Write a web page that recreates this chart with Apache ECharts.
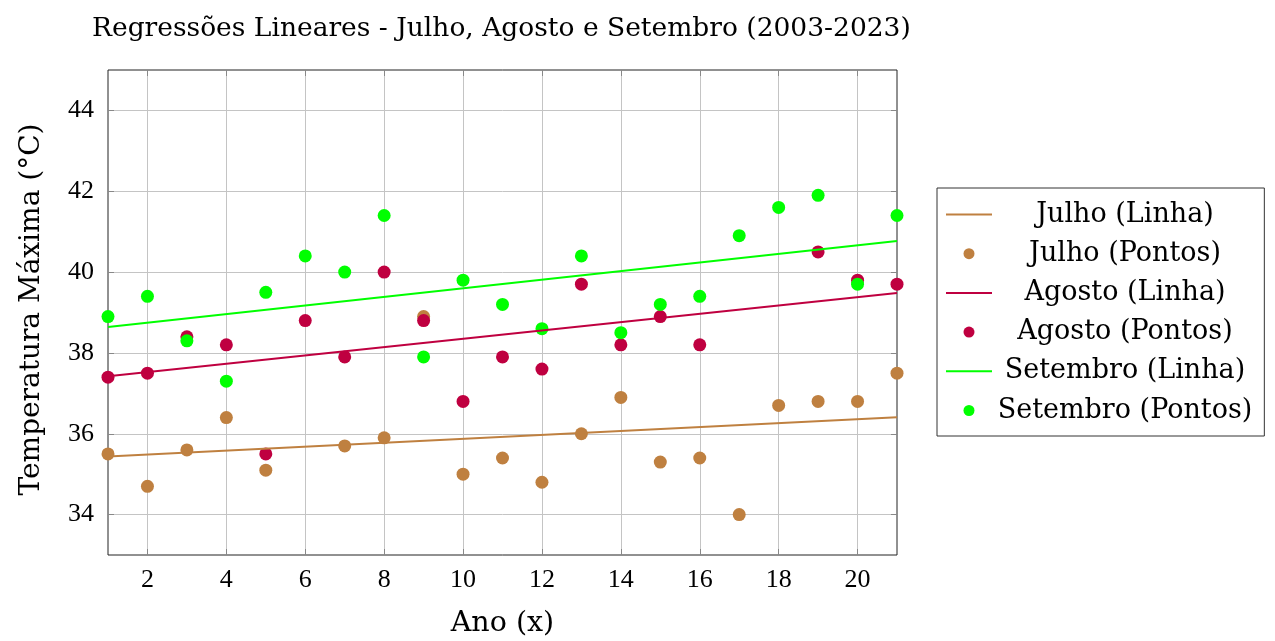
<!DOCTYPE html>
<html>
<head>
<meta charset="utf-8">
<script src="https://cdn.jsdelivr.net/npm/echarts@6/dist/echarts.min.js"></script>
<style>html,body{margin:0;padding:0;background:#fff}#c{width:1275px;height:641px}</style>
</head>
<body>
<div id="c"></div>
<script>
const years = [1,2,3,4,5,6,7,8,9,10,11,12,13,14,15,16,17,18,19,20,21];
const julho = [35.5,34.7,35.6,36.4,35.1,null,35.7,35.9,38.9,35.0,35.4,34.8,36.0,36.9,35.3,35.4,34.0,36.7,36.8,36.8,37.5];
const agosto = [37.4,37.5,38.4,38.2,35.5,38.8,37.9,40.0,38.8,36.8,37.9,37.6,39.7,38.2,38.9,38.2,null,null,40.5,39.8,39.7];
const setembro = [38.9,39.4,38.3,37.3,39.5,40.4,40.0,41.4,37.9,39.8,39.2,38.6,40.4,38.5,39.2,39.4,40.9,41.6,41.9,39.7,41.4];
const lineX = [1, 21];
const julhoLine = [35.44, 36.41];
const agostoLine = [37.42, 39.48];
const setembroLine = [38.64, 40.77];
const xTicks = [2,4,6,8,10,12,14,16,18,20];
const yTicks = [34,36,38,40,42,44];

const C_JUL = '#bf8040', C_AGO = '#bf0040', C_SET = '#00ff00';
const FONT = 'DejaVu Serif';
const NUMFONT = 'Liberation Serif';

function pts(ys){ return years.map((x,i)=>[x, ys[i]]).filter(p=>p[1]!==null); }
function ln(ys){ return lineX.map((x,i)=>[x, ys[i]]); }

const chart = echarts.init(document.getElementById('c'), null, {renderer:'canvas'});
const gridLineStyle = {color:'#c4c4c4', width:1};
const tickStyle = {color:'#888', width:1};
const lineIcon = n => ({name:n, itemStyle:{opacity:0}});
chart.setOption({
  animation:false,
  backgroundColor:'#fff',
  title:{
    text:'Regressões Lineares - Julho, Agosto e Setembro (2003-2023)',
    left:87, top:11,
    textStyle:{fontFamily:FONT, fontSize:26.5, fontWeight:'normal', color:'#000'}
  },
  grid:{left:108, right:378, top:70, bottom:86, outerBoundsMode:'none', containLabel:false, show:true, borderColor:'#222', borderWidth:1, backgroundColor:'transparent'},
  legend:{
    orient:'vertical', left:937, top:188,
    padding:[13,12,12,8],
    itemWidth:46, itemHeight:11, itemGap:12.2,
    borderColor:'#333', borderWidth:1,
    formatter: n => '{a|' + n + '}',
    textStyle:{fontFamily:FONT, fontSize:27, color:'#000', rich:{a:{width:256, align:'center', fontFamily:FONT, fontSize:27}}},
    data:[lineIcon('Julho (Linha)'),'Julho (Pontos)',lineIcon('Agosto (Linha)'),'Agosto (Pontos)',lineIcon('Setembro (Linha)'),'Setembro (Pontos)']
  },
  xAxis:[{
    type:'value', min:1, max:21,
    name:'Ano (x)', nameLocation:'middle', nameGap:54,
    nameTextStyle:{fontFamily:FONT, fontSize:28.5, color:'#000'},
    axisLine:{show:false},
    axisTick:{show:true, inside:true, length:6, lineStyle:tickStyle, customValues:xTicks},
    axisLabel:{fontFamily:NUMFONT, fontSize:26, color:'#000', margin:12, customValues:xTicks},
    splitLine:{show:true, lineStyle:gridLineStyle}
  },{
    type:'value', min:1, max:21, position:'top',
    axisLine:{show:false},
    axisTick:{show:true, inside:true, length:6, lineStyle:tickStyle, customValues:xTicks},
    axisLabel:{show:false, customValues:xTicks},
    splitLine:{show:false}
  }],
  yAxis:[{
    type:'value', min:33, max:45,
    name:'Temperatura Máxima (°C)', nameLocation:'middle', nameGap:62, nameRotate:90,
    nameTextStyle:{fontFamily:FONT, fontSize:28, color:'#000', padding:[0,0,0,6]},
    axisLine:{show:false},
    axisTick:{show:true, inside:true, length:6, lineStyle:tickStyle, customValues:yTicks},
    axisLabel:{fontFamily:NUMFONT, fontSize:26, color:'#000', margin:14, customValues:yTicks},
    splitLine:{show:true, lineStyle:gridLineStyle}
  },{
    type:'value', min:33, max:45, position:'right',
    axisLine:{show:false},
    axisTick:{show:true, inside:true, length:6, lineStyle:tickStyle, customValues:yTicks},
    axisLabel:{show:false, customValues:yTicks},
    splitLine:{show:false}
  }],
  series:[
    {name:'Julho (Linha)', type:'line', data:ln(julhoLine), symbol:'none', lineStyle:{color:C_JUL, width:2}, itemStyle:{color:C_JUL}},
    {name:'Julho (Pontos)', type:'scatter', data:pts(julho), symbol:'circle', symbolSize:13, itemStyle:{color:C_JUL, opacity:1}},
    {name:'Agosto (Linha)', type:'line', data:ln(agostoLine), symbol:'none', lineStyle:{color:C_AGO, width:2}, itemStyle:{color:C_AGO}},
    {name:'Agosto (Pontos)', type:'scatter', data:pts(agosto), symbol:'circle', symbolSize:13, itemStyle:{color:C_AGO, opacity:1}},
    {name:'Setembro (Linha)', type:'line', data:ln(setembroLine), symbol:'none', lineStyle:{color:C_SET, width:2}, itemStyle:{color:C_SET}},
    {name:'Setembro (Pontos)', type:'scatter', data:pts(setembro), symbol:'circle', symbolSize:13, itemStyle:{color:C_SET, opacity:1}}
  ]
});
</script>
</body>
</html>
